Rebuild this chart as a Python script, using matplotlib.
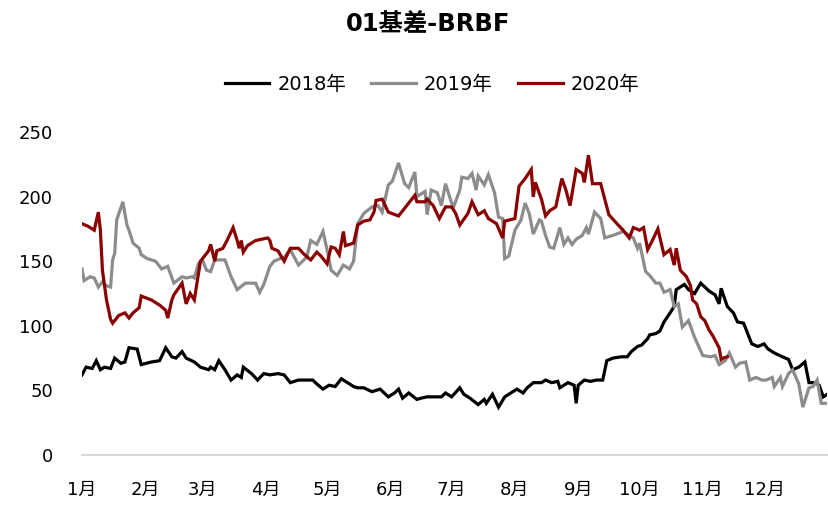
import matplotlib
matplotlib.use("Agg")
import matplotlib.pyplot as plt

plt.rcParams["font.family"] = ["DejaVu Sans", "Noto Sans CJK SC"]

# day of year (0 = 1月1日) and basis value
days_2018 = [0, 2, 5, 7, 9, 11, 14, 16, 19, 21, 23, 27, 29, 34, 38, 41, 44, 46, 49, 51,
             55, 58, 62, 63, 65, 67, 70, 73, 76, 78, 79, 83, 86, 89, 92, 96, 99, 102, 106,
             109, 113, 115, 118, 121, 124, 127, 129, 133, 135, 138, 142, 146, 148, 150,
             153, 155, 157, 160, 164, 166, 169, 172, 176, 178, 181, 185, 187, 190, 194,
             197, 198, 201, 204, 207, 210, 213, 216, 218, 221, 225, 227, 230, 233, 234,
             238, 241, 242, 243, 246, 249, 252, 255, 257, 260, 264, 267, 269, 272, 274,
             277, 278, 281, 283, 285, 288, 290, 291, 293, 295, 297, 300, 303, 307, 310,
             312, 313, 316, 319, 321, 324, 326, 328, 331, 334, 336, 339, 343, 346, 348,
             351, 354, 356, 359, 361, 363, 365]
vals_2018 = [62, 68, 67, 73, 66, 68, 67, 75, 71, 72, 83, 82, 70, 72, 73, 83, 76, 75, 80, 75,
             72, 68, 66, 68, 66, 73, 66, 58, 62, 60, 68, 63, 58, 63, 62, 63, 62, 56, 58,
             58, 58, 55, 51, 54, 53, 59, 57, 53, 52, 52, 49, 51, 48, 45, 48, 51, 44, 48,
             43, 44, 45, 45, 45, 48, 45, 52, 47, 44, 39, 43, 40, 47, 37, 45, 48, 51, 48,
             52, 56, 56, 58, 56, 57, 52, 56, 54, 40, 54, 58, 57, 58, 58, 73, 75, 76, 76,
             80, 84, 85, 90, 93, 94, 96, 103, 110, 115, 128, 130, 132, 128, 125, 133, 127,
             124, 117, 129, 115, 110, 103, 102, 94, 86, 84, 86, 82, 79, 76, 74, 66, 68,
             72, 56, 56, 54, 45, 47]

days_2019 = [0, 1, 4, 6, 8, 10, 12, 14, 15, 16, 17, 20, 22, 23, 25, 28, 29, 32, 36, 39,
             42, 45, 49, 51, 54, 55, 57, 59, 61, 63, 65, 70, 73, 76, 80, 85, 87, 89, 92,
             94, 97, 99, 102, 104, 106, 110, 112, 115, 118, 120, 122, 125, 128, 131, 133,
             135, 138, 142, 145, 147, 150, 152, 155, 158, 160, 163, 164, 168, 169, 171,
             174, 176, 178, 181, 182, 185, 186, 189, 191, 193, 194, 197, 199, 202, 204,
             206, 207, 209, 212, 215, 217, 219, 221, 224, 225, 227, 229, 231, 234, 236,
             238, 240, 242, 245, 247, 248, 251, 254, 256, 260, 265, 270, 272, 273, 274,
             276, 278, 281, 283, 285, 288, 290, 292, 294, 297, 300, 302, 304, 308, 310,
             312, 315, 317, 320, 322, 325, 327, 330, 333, 335, 338, 339, 342, 343, 346,
             348, 351, 353, 356, 358, 360, 362, 365]
vals_2019 = [144, 135, 138, 137, 130, 134, 131, 130, 151, 156, 182, 196, 178, 174, 164, 160,
             155, 152, 150, 144, 146, 133, 138, 137, 138, 137, 148, 151, 143, 142, 151, 151,
             138, 128, 133, 133, 126, 132, 146, 150, 152, 153, 159, 153, 147, 153, 166, 163,
             173, 159, 143, 139, 147, 144, 150, 179, 187, 192, 193, 188, 209, 212, 226, 210,
             207, 219, 200, 204, 186, 205, 203, 193, 210, 195, 192, 205, 215, 214, 218, 205,
             216, 209, 217, 203, 184, 183, 152, 154, 174, 182, 195, 187, 171, 182, 181, 170,
             161, 160, 176, 163, 168, 163, 167, 170, 176, 171, 188, 183, 168, 170, 173, 168,
             160, 164, 157, 142, 139, 133, 133, 126, 128, 115, 117, 99, 104, 91, 84, 77, 76,
             77, 70, 73, 79, 68, 71, 72, 58, 60, 58, 58, 60, 53, 60, 53, 63, 66, 55, 37, 52,
             53, 58, 40, 40]

days_2020 = [0, 3, 6, 8, 9, 10, 12, 14, 15, 18, 21, 23, 25, 28, 29, 34, 38, 41, 42, 44,
             45, 49, 51, 53, 55, 58, 62, 63, 65, 66, 69, 71, 74, 76, 77, 78, 79, 81, 85,
             88, 91, 92, 93, 96, 99, 102, 106, 109, 112, 115, 117, 120, 122, 124, 126, 128,
             129, 133, 135, 138, 141, 143, 144, 147, 150, 155, 158, 163, 164, 168, 169,
             172, 175, 178, 181, 183, 185, 189, 191, 194, 197, 199, 203, 206, 207, 212,
             214, 217, 220, 221, 222, 225, 227, 229, 232, 235, 237, 239, 242, 245, 246,
             248, 250, 254, 258, 262, 265, 268, 270, 273, 275, 277, 279, 282, 285, 288,
             290, 291, 293, 296, 298, 299, 301, 303, 305, 307, 309, 312, 313, 314, 316]
vals_2020 = [179, 177, 174, 188, 174, 143, 120, 105, 102, 108, 110, 106, 110, 114, 123, 120,
             116, 112, 106, 120, 124, 133, 117, 125, 120, 150, 158, 163, 150, 158, 160, 166,
             176, 166, 160, 166, 157, 162, 166, 167, 168, 166, 160, 158, 150, 160, 160, 155,
             151, 157, 154, 148, 161, 160, 155, 173, 162, 164, 178, 181, 182, 188, 197, 198,
             188, 185, 191, 201, 196, 196, 198, 193, 183, 192, 192, 187, 178, 187, 196, 186,
             189, 183, 179, 168, 181, 183, 208, 214, 221, 200, 211, 198, 185, 189, 192, 214,
             205, 193, 221, 218, 211, 232, 210, 210, 186, 179, 174, 168, 176, 174, 176, 159,
             165, 175, 155, 159, 147, 160, 143, 138, 131, 120, 117, 107, 104, 97, 92, 83, 74,
             75, 76]

month_starts = [0, 31, 59, 90, 120, 151, 181, 212, 243, 273, 304, 334]
month_labels = ["1月", "2月", "3月", "4月", "5月", "6月", "7月", "8月", "9月", "10月", "11月", "12月"]
y_ticks = [0, 50, 100, 150, 200, 250]

SERIES = [
    ("2018年", days_2018, vals_2018, "#000000"),
    ("2019年", days_2019, vals_2019, "#8c8c8c"),
    ("2020年", days_2020, vals_2020, "#8b0000"),
]

fig = plt.figure(figsize=(8.29, 5.05), dpi=100)
ax = fig.add_axes([82 / 829, 1 - 455 / 505, 1 - 82 / 829 - 0.002, (455 - 132) / 505])

for name, d, v, c in SERIES:
    ax.plot(d, v, color=c, lw=2.3, label=name, solid_joinstyle="miter")

ax.set_xlim(0, 365)
ax.set_ylim(0, 250)
ax.set_xticks(month_starts)
ax.set_xticklabels(month_labels)
ax.set_yticks(y_ticks)
ax.tick_params(axis="both", length=0, labelsize=13)
ax.tick_params(axis="y", pad=21)
ax.tick_params(axis="x", pad=19)
for s in ["top", "right", "left"]:
    ax.spines[s].set_visible(False)
ax.spines["bottom"].set_color("#d9d9d9")
ax.spines["bottom"].set_linewidth(1.5)
ax.spines["bottom"].set_zorder(0)

fig.text(428 / 829, 1 - 24 / 505, "01基差-BRBF", ha="center", va="center",
         fontsize=17.5, fontweight="bold")
fig.legend(loc="center", bbox_to_anchor=(432 / 829, 1 - 84 / 505), ncol=3,
           frameon=False, fontsize=14, handlelength=2.3, columnspacing=1.3,
           handletextpad=0.4)

fig.savefig("out.png", dpi=100)
